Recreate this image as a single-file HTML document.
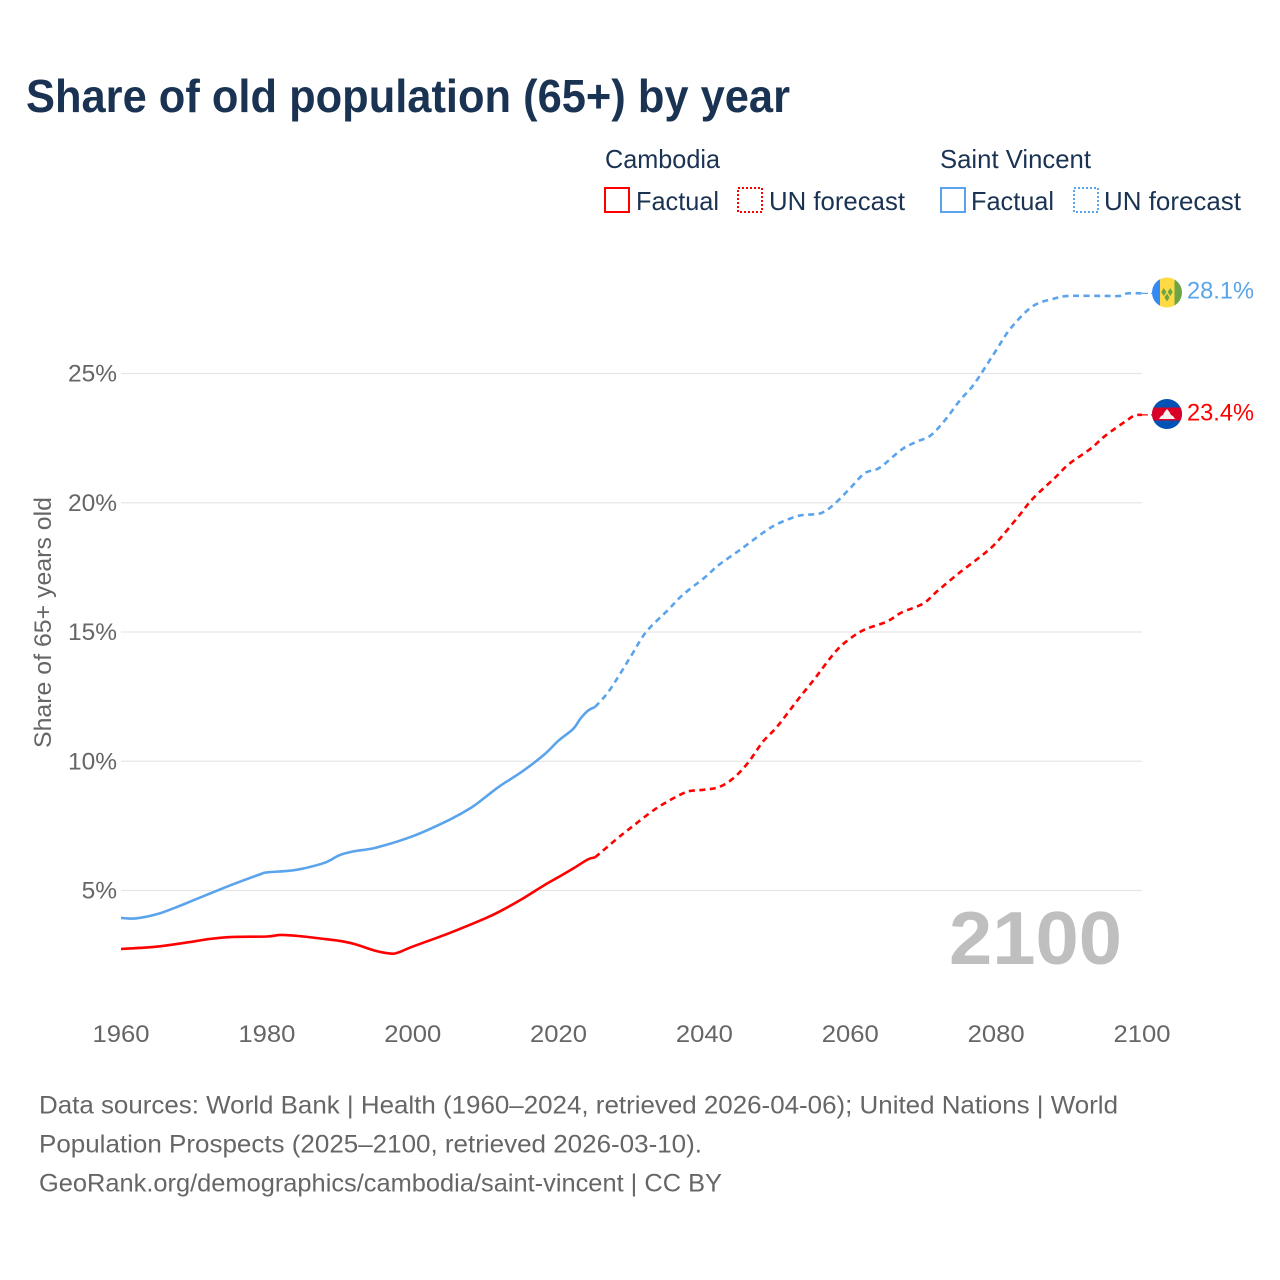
<!DOCTYPE html>
<html lang="en">
<head>
<meta charset="utf-8">
<title>Share of old population (65+) by year</title>
<style>
html,body{margin:0;padding:0;background:#fff;}
svg{display:block;font-family:"Liberation Sans",sans-serif;}
</style>
</head>
<body>
<svg id="chart" xmlns="http://www.w3.org/2000/svg" width="1280" height="1280" viewBox="0 0 1280 1280">
  <rect width="1280" height="1280" fill="#fff"/>
  <text x="26" y="112" font-size="46" font-weight="700" fill="#1a3353" textLength="764" lengthAdjust="spacingAndGlyphs">Share of old population (65+) by year</text>

  <g font-size="26" fill="#1a3353">
    <text x="605" y="168" textLength="115" lengthAdjust="spacingAndGlyphs">Cambodia</text>
    <text x="940" y="168" textLength="151" lengthAdjust="spacingAndGlyphs">Saint Vincent</text>
    <rect x="605" y="188" width="24" height="24" fill="none" stroke="#ff0000" stroke-width="2"/>
    <text x="636" y="210" textLength="83" lengthAdjust="spacingAndGlyphs">Factual</text>
    <rect x="738" y="188" width="24" height="24" fill="none" stroke="#ff0000" stroke-width="2" stroke-dasharray="2 2"/>
    <text x="769" y="210" textLength="136" lengthAdjust="spacingAndGlyphs">UN forecast</text>
    <rect x="941" y="188" width="24" height="24" fill="none" stroke="#5ba4ec" stroke-width="2"/>
    <text x="971" y="210" textLength="83" lengthAdjust="spacingAndGlyphs">Factual</text>
    <rect x="1074" y="188" width="24" height="24" fill="none" stroke="#5ba4ec" stroke-width="2" stroke-dasharray="2 2"/>
    <text x="1104" y="210" textLength="137" lengthAdjust="spacingAndGlyphs">UN forecast</text>
  </g>

  <g id="grid"></g>
  <g id="yTicks" font-size="24.5" fill="#666"></g>
  <g id="xTicks" font-size="24.5" fill="#666"></g>
  <text transform="translate(51,748) rotate(-90)" font-size="24.5" fill="#666" textLength="251" lengthAdjust="spacingAndGlyphs">Share of 65+ years old</text>

  <text x="949" y="964" font-size="75" font-weight="700" fill="#bfbfbf" textLength="173" lengthAdjust="spacingAndGlyphs">2100</text>

  <g id="series"></g>

  <defs>
    <clipPath id="flagClipA"><circle cx="1167" cy="292.5" r="15"/></clipPath>
    <clipPath id="flagClipB"><circle cx="1167" cy="414" r="15"/></clipPath>
  </defs>
  <g clip-path="url(#flagClipA)">
    <rect x="1152" y="277" width="8" height="31" fill="#338af3"/>
    <rect x="1160" y="277" width="14.5" height="31" fill="#ffda44"/>
    <rect x="1174.5" y="277" width="8" height="31" fill="#6da544"/>
    <path d="M1163.8 288l2.600 4-2.600 4-2.600-4zM1170.2 288l2.600 4-2.600 4-2.600-4zM1167 293.500l2.600 4-2.600 4-2.600-4z" fill="#6da544"/>
  </g>
  <g clip-path="url(#flagClipB)">
    <rect x="1152" y="399" width="30" height="30" fill="#0052b4"/>
    <rect x="1152" y="407.5" width="30" height="13" fill="#d80027"/>
    <path d="M1159 419l2-3 2-1 1.500-3 2.500-3 2.500 3 1.500 3 2 1 2 3z" fill="#f5f0ee"/>
  </g>
  <text x="1187" y="298.500" font-size="24.5" fill="#5ba4ec" textLength="67" lengthAdjust="spacingAndGlyphs">28.1%</text>
  <text x="1187" y="420.500" font-size="24.5" fill="#ff0000" textLength="67" lengthAdjust="spacingAndGlyphs">23.4%</text>

  <g font-size="25" fill="#666">
    <text x="39" y="1113.500" textLength="1079" lengthAdjust="spacingAndGlyphs">Data sources: World Bank | Health (1960–2024, retrieved 2026-04-06); United Nations | World</text>
    <text x="39" y="1152.500" textLength="663" lengthAdjust="spacingAndGlyphs">Population Prospects (2025–2100, retrieved 2026-03-10).</text>
    <text x="39" y="1191.500" textLength="683" lengthAdjust="spacingAndGlyphs">GeoRank.org/demographics/cambodia/saint-vincent | CC BY</text>
  </g>
</svg>
<script>
var yTickValues = [5, 10, 15, 20, 25];
var xTickValues = [1960, 1980, 2000, 2020, 2040, 2060, 2080, 2100];

var cambodiaFactualYears = [1960,1965,1970,1972,1975,1980,1982,1985,1988,1990,1992,1995,1997,1998,2000,2005,2010,2012,2015,2018,2020,2022,2024,2025];
var cambodiaFactualValues = [2.74,2.83,3.03,3.12,3.2,3.22,3.28,3.22,3.12,3.05,2.93,2.66,2.56,2.6,2.83,3.35,3.93,4.2,4.67,5.2,5.52,5.85,6.2,6.28];
var cambodiaForecastYears = [2025,2028,2030,2033,2035,2037,2038,2040,2042,2044,2046,2048,2050,2053,2055,2058,2060,2062,2065,2067,2070,2072,2075,2078,2080,2083,2085,2088,2090,2093,2095,2098,2099,2100];
var cambodiaForecastValues = [6.28,7.0,7.45,8.1,8.45,8.75,8.85,8.9,9.0,9.35,9.95,10.75,11.35,12.45,13.15,14.25,14.75,15.1,15.4,15.75,16.1,16.6,17.3,17.95,18.45,19.45,20.15,20.95,21.5,22.1,22.6,23.2,23.38,23.4];

var saintVincentFactualYears = [1960,1962,1965,1968,1970,1975,1979,1980,1983,1985,1988,1990,1992,1995,2000,2005,2008,2010,2012,2015,2018,2020,2022,2023,2024,2025];
var saintVincentFactualValues = [3.94,3.92,4.09,4.4,4.63,5.2,5.62,5.7,5.76,5.85,6.08,6.37,6.52,6.66,7.1,7.73,8.2,8.62,9.05,9.6,10.25,10.8,11.25,11.65,11.95,12.1];
var saintVincentForecastYears = [2025,2027,2030,2032,2035,2037,2040,2042,2045,2048,2050,2053,2056,2058,2060,2062,2064,2067,2069,2071,2073,2075,2077,2080,2082,2085,2088,2090,2095,2097,2098,2100];
var saintVincentForecastValues = [12.1,12.75,14.1,15.0,15.85,16.43,17.1,17.6,18.2,18.83,19.18,19.5,19.6,20.0,20.57,21.15,21.35,22.05,22.35,22.6,23.2,23.95,24.6,25.9,26.75,27.6,27.9,28.0,28.0,28.0,28.1,28.1];

var svgNS = 'http://www.w3.org/2000/svg';
function xScale(year) { return 121 + (year - 1960) * (1021 / 140); }
function yScale(value) { return 890.5 - (value - 5) * 25.85; }

function buildPath(years, values) {
  var pts = years.map(function (yr, i) { return [xScale(yr), yScale(values[i])]; });
  var d = 'M' + pts[0][0].toFixed(2) + ' ' + pts[0][1].toFixed(2);
  for (var i = 0; i < pts.length - 1; i++) {
    var p0 = pts[Math.max(i - 1, 0)], p1 = pts[i], p2 = pts[i + 1], p3 = pts[Math.min(i + 2, pts.length - 1)];
    var c1x = p1[0] + (p2[0] - p0[0]) / 6, c1y = p1[1] + (p2[1] - p0[1]) / 6;
    var c2x = p2[0] - (p3[0] - p1[0]) / 6, c2y = p2[1] - (p3[1] - p1[1]) / 6;
    d += 'C' + c1x.toFixed(2) + ' ' + c1y.toFixed(2) + ' ' + c2x.toFixed(2) + ' ' + c2y.toFixed(2) + ' ' + p2[0].toFixed(2) + ' ' + p2[1].toFixed(2);
  }
  return d;
}

var grid = document.getElementById('grid');
var yTicks = document.getElementById('yTicks');
yTickValues.forEach(function (v) {
  var line = document.createElementNS(svgNS, 'line');
  
  
  line.setAttribute('x1', 121);
  line.setAttribute('x2', 1142);
  line.setAttribute('y1', yScale(v));
  line.setAttribute('y2', yScale(v));
  line.setAttribute('stroke', '#e6e6e6');
  line.setAttribute('stroke-width', 1.2);
  grid.appendChild(line);
  var t = document.createElementNS(svgNS, 'text');
  
  
  t.setAttribute('x', 117);
  t.setAttribute('y', yScale(v) + 8);
  t.setAttribute('text-anchor', 'end');
  t.textContent = v + '%';
  yTicks.appendChild(t);
});

var xTicks = document.getElementById('xTicks');
xTickValues.forEach(function (yr) {
  var t = document.createElementNS(svgNS, 'text');
  
  
  t.setAttribute('x', xScale(yr));
  t.setAttribute('y', 1042);
  t.setAttribute('text-anchor', 'middle');
  t.setAttribute('textLength', 57);
  t.setAttribute('lengthAdjust', 'spacingAndGlyphs');
  t.textContent = yr;
  xTicks.appendChild(t);
});

var seriesGroup = document.getElementById('series');
function addLine(name, years, values, color, dashed) {
  var p = document.createElementNS(svgNS, 'path');
  
  
  p.setAttribute('d', buildPath(years, values));
  p.setAttribute('fill', 'none');
  p.setAttribute('stroke', color);
  p.setAttribute('stroke-width', 2.6);
  p.setAttribute('stroke-linejoin', 'round');
  if (dashed) p.setAttribute('stroke-dasharray', '6 4.5');
  seriesGroup.appendChild(p);
}
function addConnector(name, value, color) {
  var c = document.createElementNS(svgNS, 'line');
  
  
  c.setAttribute('x1', xScale(2100));
  c.setAttribute('x2', xScale(2100) + 10);
  c.setAttribute('y1', yScale(value));
  c.setAttribute('y2', yScale(value));
  c.setAttribute('stroke', color);
  c.setAttribute('stroke-width', 1.2);
  c.setAttribute('stroke-dasharray', '6 3');
  seriesGroup.appendChild(c);
}
addLine('saint-vincent-factual-line', saintVincentFactualYears, saintVincentFactualValues, '#5ba4ec', false);
addLine('saint-vincent-forecast-line', saintVincentForecastYears, saintVincentForecastValues, '#5ba4ec', true);
addLine('cambodia-factual-line', cambodiaFactualYears, cambodiaFactualValues, '#ff0000', false);
addLine('cambodia-forecast-line', cambodiaForecastYears, cambodiaForecastValues, '#ff0000', true);
addConnector('saint-vincent-flag-connector', saintVincentForecastValues[saintVincentForecastValues.length - 1], '#5ba4ec');
addConnector('cambodia-flag-connector', cambodiaForecastValues[cambodiaForecastValues.length - 1], '#ff0000');
</script>
</body>
</html>
